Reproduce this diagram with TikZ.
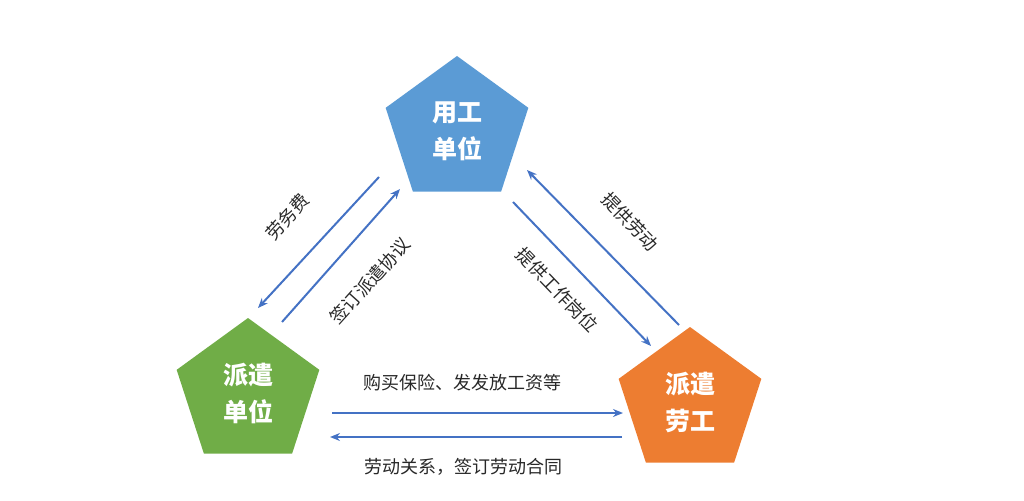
\documentclass[tikz,border=0pt]{standalone}
\usepackage{fontspec}
\setmainfont{Noto Sans CJK SC}
\usetikzlibrary{shapes.geometric,arrows.meta}
\definecolor{pblue}{RGB}{91,155,213}
\definecolor{pgreen}{RGB}{112,173,71}
\definecolor{porange}{RGB}{237,125,49}
\definecolor{ablue}{RGB}{68,114,196}
\definecolor{tgray}{RGB}{40,40,40}
\tikzset{
  pent/.style={regular polygon, regular polygon sides=5, minimum size=150pt, inner sep=0pt,
    text=white, font=\fontsize{25}{37}\selectfont\bfseries, align=center},
  conn/.style={draw=ablue, line width=2pt, -{Stealth[length=10pt,width=8pt]}},
  lbl/.style={text=tgray, font=\fontsize{18}{20}\selectfont, inner sep=0pt}
}
\begin{document}
\begin{tikzpicture}[x=1pt,y=-1pt]
\useasboundingbox (0,0) rectangle (1024,500);
\node[pent, fill=pblue] (yg) at (457,131) {用工\\单位};
\node[pent, fill=pgreen] (pq) at (248,393) {派遣\\单位};
\node[pent, fill=porange] (lg) at (690,402) {派遣\\劳工};
% coordinates for connector ends
\coordinate (a1s) at (379,177);
\coordinate (a1e) at (258,308);
\coordinate (a2s) at (282,322);
\coordinate (a2e) at (400,189);
\coordinate (a3s) at (679,325);
\coordinate (a3e) at (527,170);
\coordinate (a4s) at (513,202);
\coordinate (a4e) at (651,346);
\coordinate (a5s) at (332,413);
\coordinate (a5e) at (623,413);
\coordinate (a6s) at (622,437);
\coordinate (a6e) at (330,437);
\draw[conn] (a1s) -- (a1e);
\draw[conn] (a2s) -- (a2e);
\draw[conn] (a3s) -- (a3e);
\draw[conn] (a4s) -- (a4e);
\draw[conn] (a5s) -- (a5e);
\draw[conn] (a6s) -- (a6e);
\node[lbl, rotate=48] (l1) at (287,217) {劳务费};
\node[lbl, rotate=48] (l2) at (370,281) {签订派遣协议};
\node[lbl, rotate=-46] (l3) at (630,222) {提供劳动};
\node[lbl, rotate=-46] (l4) at (557,290) {提供工作岗位};
\node[lbl] (l5) at (462,383) {购买保险、发发放工资等};
\node[lbl] (l6) at (463,467) {劳动关系，签订劳动合同};
\end{tikzpicture}
\end{document}
